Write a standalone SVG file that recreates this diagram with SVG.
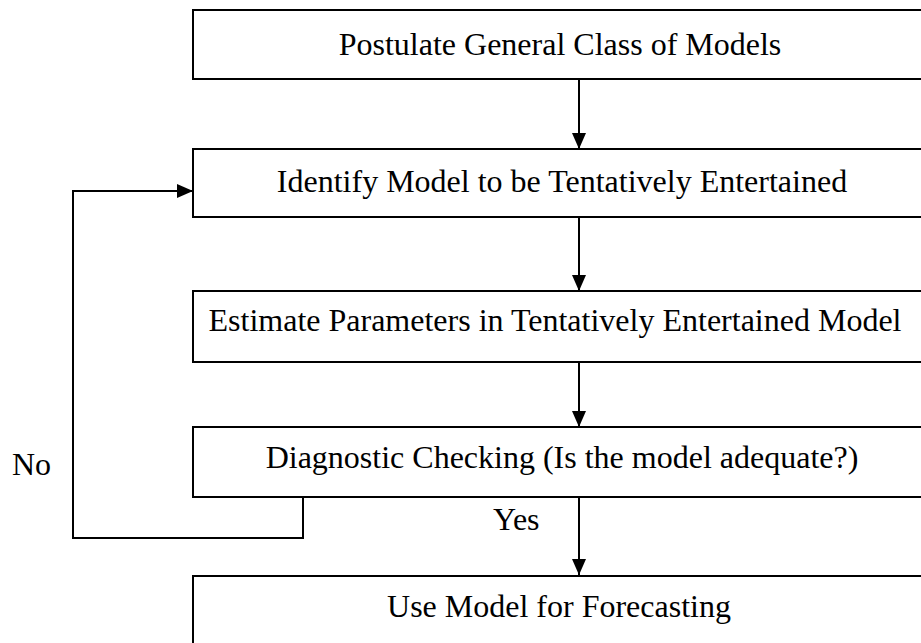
<svg xmlns="http://www.w3.org/2000/svg" width="921" height="643" viewBox="0 0 921 643">
<style>
.box{fill:#fff;stroke:#000;stroke-width:2}
.t{font-family:"Liberation Serif","Times New Roman",serif;font-size:32px;fill:#000}
.c{text-anchor:middle}
.ln{fill:none;stroke:#000;stroke-width:2}
</style>
<defs>
<marker id="ah" viewBox="0 0 16 14" refX="16" refY="7" markerWidth="16" markerHeight="14" markerUnits="userSpaceOnUse" orient="auto">
<path d="M0,0 L16,7 L0,14 Z" fill="#000"/>
</marker>
</defs>
<rect width="921" height="643" fill="#fff"/>
<g id="connectors">
<line class="ln" x1="579" y1="79" x2="579" y2="149" marker-end="url(#ah)"/>
<line class="ln" x1="579" y1="217" x2="579" y2="291" marker-end="url(#ah)"/>
<line class="ln" x1="579" y1="362" x2="579" y2="427" marker-end="url(#ah)"/>
<line class="ln" x1="579" y1="497" x2="579" y2="575" marker-end="url(#ah)"/>
<polyline class="ln" points="303,497 303,538 73,538 73,191 193,191" marker-end="url(#ah)"/>
<text class="t" x="493" y="530">Yes</text>
<text class="t" x="12" y="475">No</text>
</g>
<g id="n1"><rect class="box" x="193" y="10" width="740" height="69"/><text class="t c" x="560" y="55">Postulate General Class of Models</text></g>
<g id="n2"><rect class="box" x="193" y="149" width="740" height="68"/><text class="t c" x="562" y="192">Identify Model to be Tentatively Entertained</text></g>
<g id="n3"><rect class="box" x="193" y="291" width="740" height="71"/><text class="t c" x="555" y="331">Estimate Parameters in Tentatively Entertained Model</text></g>
<g id="n4"><rect class="box" x="193" y="427" width="740" height="70"/><text class="t c" x="562" y="468">Diagnostic Checking (Is the model adequate?)</text></g>
<g id="n5"><rect class="box" x="193" y="576" width="740" height="80"/><text class="t c" x="559" y="617">Use Model for Forecasting</text></g>
</svg>
